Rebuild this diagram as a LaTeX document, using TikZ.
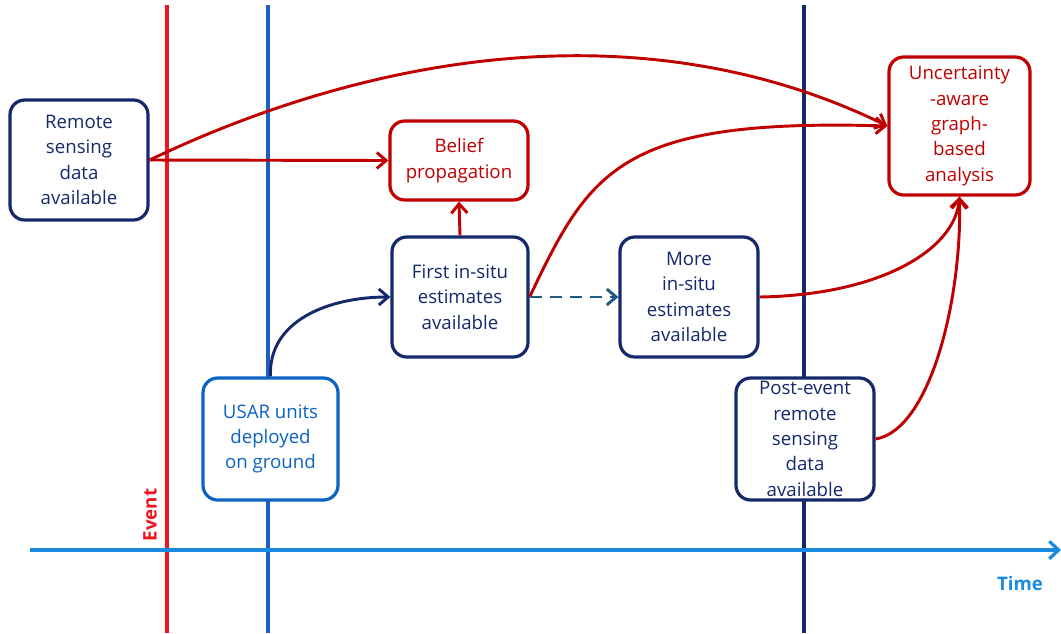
\documentclass[tikz,border=0pt]{standalone}
\usepackage{fontspec}
\setmainfont{Open Sans}
\usetikzlibrary{arrows.meta}
\definecolor{navy}{HTML}{14296B}
\definecolor{dred}{HTML}{C00000}
\definecolor{bred}{HTML}{F0141E}
\definecolor{mblue}{HTML}{1F5FBF}
\definecolor{ublue}{HTML}{0B63C4}
\definecolor{tblue}{HTML}{1A8AE0}
\definecolor{dteal}{HTML}{1F5A80}
\tikzset{
  box/.style={draw, line width=2.4pt, rounded corners=11pt, fill=white, align=center,
    font=\fontsize{14}{19}\selectfont, inner sep=0pt},
  navybox/.style={box, draw=navy, text=navy},
  redbox/.style={box, draw=dred, text=dred},
  conn/.style={line width=2.2pt, -{Straight Barb[length=7pt,width=12pt,line width=2.2pt]}},
}
\begin{document}
\begin{tikzpicture}[x=0.75pt,y=-0.75pt]
\useasboundingbox (0,0) rectangle (1061,633);
% time lines
\draw[bred, line width=2.6pt] (167,5) -- (167,633);
\draw[mblue, line width=2.6pt] (268,5) -- (268,633);
\draw[navy, line width=2.6pt] (804,5) -- (804,633);
\coordinate (t0) at (30,550);
\coordinate (t1) at (1061,550);
\draw[tblue, line width=2.8pt, -{Straight Barb[length=7pt,width=13pt,line width=2.4pt]}] (t0) -- (t1);
\node[text=tblue, font=\bfseries\fontsize{14}{15}\selectfont] (time) at (1020,583) {Time};
\node[text=bred, font=\bfseries\fontsize{14}{15}\selectfont, rotate=90] (event) at (150,515) {Event};
% boxes
\node[navybox, minimum width=138*0.75pt, minimum height=120*0.75pt] (rs) at (79,160) {Remote\\sensing\\data\\available};
\node[redbox, minimum width=138*0.75pt, minimum height=79*0.75pt] (bp) at (459,160.5) {Belief\\propagation};
\node[navybox, minimum width=136*0.75pt, minimum height=120*0.75pt] (fi) at (460,297) {First in-situ\\estimates\\available};
\node[navybox, minimum width=138*0.75pt, minimum height=120*0.75pt] (mi) at (689,297) {More\\in-situ\\estimates\\available};
\node[redbox, minimum width=141*0.75pt, minimum height=138*0.75pt] (ua) at (959.5,126) {Uncertainty\\-aware\\graph-\\based\\analysis};
\node[box, draw=ublue, text=ublue, minimum width=135*0.75pt, minimum height=122*0.75pt] (usar) at (270.5,439) {USAR units\\deployed\\on ground};
\node[navybox, minimum width=138*0.75pt, minimum height=122*0.75pt] (pe) at (805,439) {Post-event\\remote\\sensing\\data\\available};
% connectors
\draw[conn, dred] (rs.east) -- (bp.west);
\draw[conn, dred] (rs.east) .. controls (380,50) and (650,10) .. (ua.west);
\draw[conn, dred] (fi.north) -- (bp.south);
\draw[conn, dred] (fi.east) .. controls (590,170) and (620,118) .. (ua.west);
\draw[conn, navy] (usar.north) .. controls (268,320) and (330,297) .. (fi.west);
\draw[conn, dteal, dashed, dash pattern=on 9pt off 6pt] (fi.east) -- (mi.west);
\draw[conn, dred] (mi.east) .. controls (880,295) and (955,250) .. (ua.south);
\draw[conn, dred] (pe.east) .. controls (930,430) and (962,300) .. (ua.south);
\end{tikzpicture}
\end{document}
